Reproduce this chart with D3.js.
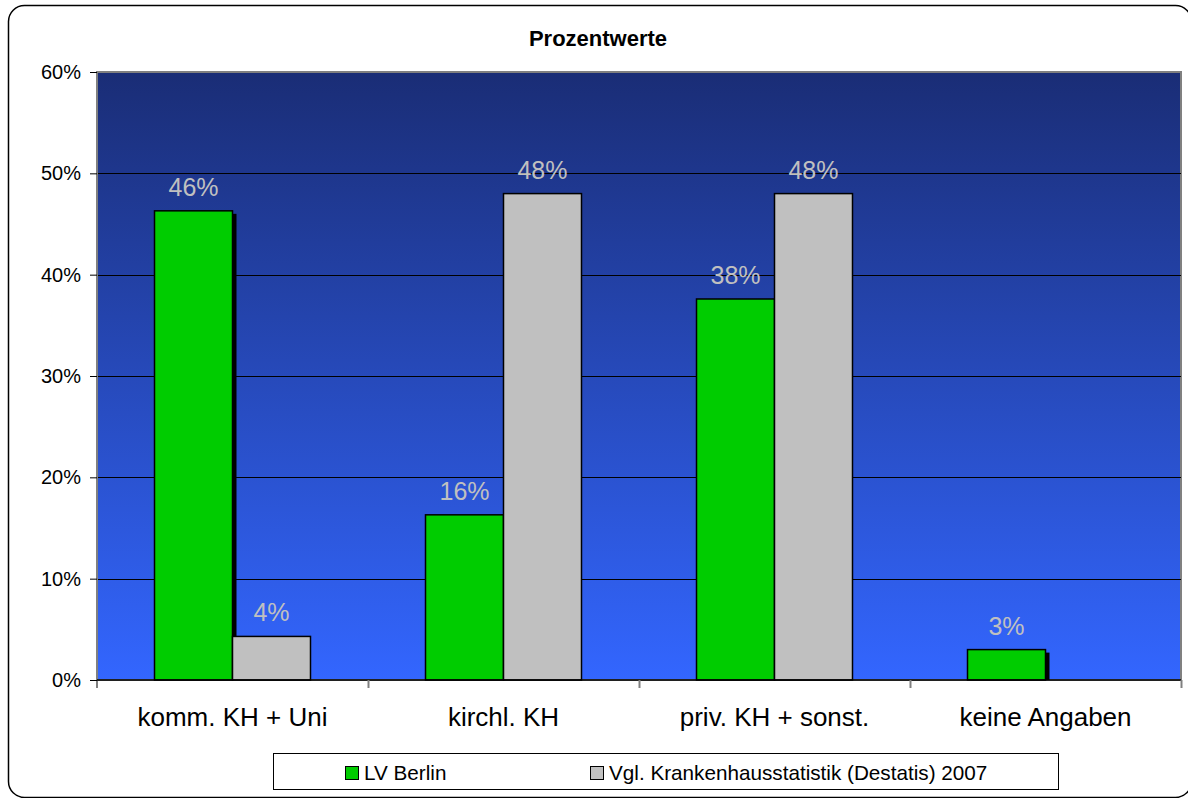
<!DOCTYPE html>
<html lang="de">
<head>
  <meta charset="UTF-8">
  <title>Prozentwerte</title>
  <script src="https://d3js.org/d3.v7.min.js"></script>
  <style>
    html, body {
      margin: 0;
      background: #fff;
      overflow: hidden;
      font-family: Arial, "Liberation Sans", sans-serif;
    }
  </style>
</head>
<body>
  <div id="chart"></div>
  <script>
    const categories = ['komm. KH + Uni', 'kirchl. KH', 'priv. KH + sonst.', 'keine Angaben']
    const seriesNames = ['LV Berlin', 'Vgl. Krankenhausstatistik (Destatis) 2007']
    const lvBerlin = [46.3, 16.3, 37.6, 3.0]
    const destatis = [4.3, 48.0, 48.0, 0]
    const yTicks = [0, 10, 20, 30, 40, 50, 60]

    const width = 1188
    const height = 798
    const plot = { left: 97, right: 1181, top: 72, bottom: 680 }
    const colors = ['#00cc00', '#c0c0c0']

    const rows = categories.map((c, i) => ({
      category: c,
      values: [
        { key: seriesNames[0], s: 0, value: lvBerlin[i] },
        { key: seriesNames[1], s: 1, value: destatis[i] },
      ]
    }))

    const svg = d3.select('#chart').append('svg')
      .attr('width', width)
      .attr('height', height)

    // outer rounded frame
    svg.append('rect')
      .attr('x', 8.5).attr('y', 5.5)
      .attr('width', 1183).attr('height', 792)
      .attr('rx', 16)
      .attr('fill', '#fff')
      .attr('stroke', '#000')
      .attr('stroke-width', 1.5)

    svg.append('text')
      .attr('x', 598).attr('y', 46)
      .attr('text-anchor', 'middle')
      .style('font-size', '22px')
      .style('font-weight', 'bold')
      .text('Prozentwerte')

    const defs = svg.append('defs')
    const grad = defs.append('linearGradient')
      .attr('id', 'bg').attr('x1', '0%').attr('x2', '0%').attr('y1', '0%').attr('y2', '100%')
    grad.append('stop').attr('offset', '0%').attr('stop-color', '#1a2d76')
    grad.append('stop').attr('offset', '100%').attr('stop-color', '#3366ff')

    const y = d3.scaleLinear().domain([0, 60]).range([plot.bottom, plot.top])
    const x0 = d3.scaleBand().domain(categories)
      .range([plot.left, plot.right])
      .paddingInner(0.4244).paddingOuter(0.2122)
    const x1 = d3.scaleBand().domain([0, 1]).range([0, x0.bandwidth()])

    svg.append('rect')
      .attr('x', plot.left).attr('y', plot.top)
      .attr('width', plot.right - plot.left).attr('height', plot.bottom - plot.top)
      .attr('fill', 'url(#bg)')
      .attr('stroke', '#808080')
      .attr('stroke-width', 2)

    // gridlines
    svg.append('g')
      .selectAll('line')
      .data(yTicks.filter(t => t > 0 && t < 60))
      .join('line')
      .attr('x1', plot.left).attr('x2', plot.right)
      .attr('y1', d => Math.round(y(d)) + 0.5).attr('y2', d => Math.round(y(d)) + 0.5)
      .attr('stroke', '#000')

    // y axis
    const yAxis = svg.append('g')
      .attr('transform', `translate(${plot.left},0)`)
      .call(d3.axisLeft(y).tickValues(yTicks).tickSize(7).tickPadding(9).tickFormat(d => d + '%'))
    yAxis.select('.domain').attr('stroke', '#808080').attr('stroke-width', 2)
      .attr('d', `M0,${plot.top}V${plot.bottom + 8}`)
    yAxis.selectAll('.tick line').attr('stroke', '#000')
    yAxis.selectAll('.tick text')
      .style('font-size', '20px')
      .style('font-family', 'Arial, "Liberation Sans", sans-serif')
      .attr('fill', '#000')

    const groups = svg.append('g')
      .selectAll('g')
      .data(rows)
      .join('g')
      .attr('transform', d => `translate(${x0(d.category)},0)`)

    const bars = groups.selectAll('g.bar')
      .data(d => d.values.filter(v => v.value > 0))
      .join('g')
      .attr('class', 'bar')

    // shadow for green bars
    bars.filter(d => d.s === 0)
      .append('rect')
      .attr('x', d => x1(d.s) + 4)
      .attr('y', d => y(d.value) + 3)
      .attr('width', x1.bandwidth())
      .attr('height', d => plot.bottom - y(d.value) - 3)
      .attr('fill', '#000')

    bars.append('rect')
      .attr('x', d => x1(d.s))
      .attr('y', d => y(d.value))
      .attr('width', x1.bandwidth())
      .attr('height', d => plot.bottom - y(d.value))
      .attr('fill', d => colors[d.s])
      .attr('stroke', '#000')
      .attr('stroke-width', 1.5)

    bars.append('text')
      .attr('x', d => x1(d.s) + x1.bandwidth() / 2)
      .attr('y', d => y(d.value) - 15)
      .attr('text-anchor', 'middle')
      .attr('fill', '#c0c0c0')
      .style('font-size', '25px')
      .text(d => Math.round(d.value) + '%')

    // x axis
    const xb = d3.scaleLinear().domain([0, categories.length]).range([plot.left, plot.right])
    const xAxis = svg.append('g')
      .attr('transform', `translate(0,${plot.bottom})`)
      .call(d3.axisBottom(xb).tickValues(d3.range(1, categories.length + 1)).tickSize(8).tickFormat(''))
    xAxis.select('.domain').attr('stroke', '#000').attr('stroke-width', 1.5)
      .attr('d', `M${plot.left},0H${plot.right}`)
    xAxis.selectAll('.tick line').attr('stroke', '#808080').attr('stroke-width', 2)

    svg.append('g')
      .selectAll('text')
      .data(categories)
      .join('text')
      .attr('x', d => x0(d) + x0.bandwidth() / 2)
      .attr('y', 726)
      .attr('text-anchor', 'middle')
      .style('font-size', '26px')
      .text(d => d)

    // legend
    const legend = svg.append('g')
    legend.append('rect')
      .attr('x', 273.5).attr('y', 753.5)
      .attr('width', 785).attr('height', 36)
      .attr('fill', '#fff')
      .attr('stroke', '#000')
      .attr('stroke-width', 1)
    const legendX = [345, 590]
    const item = legend.selectAll('g.item')
      .data(seriesNames)
      .join('g')
      .attr('class', 'item')
      .attr('transform', (d, i) => `translate(${legendX[i]},766)`)
    item.append('rect')
      .attr('x', 0.5).attr('y', 0.5)
      .attr('width', 13).attr('height', 13)
      .attr('fill', (d, i) => colors[i])
      .attr('stroke', '#000')
    item.append('text')
      .attr('x', 19).attr('y', 14)
      .style('font-size', '20.7px')
      .text(d => d)
  </script>
</body>
</html>
